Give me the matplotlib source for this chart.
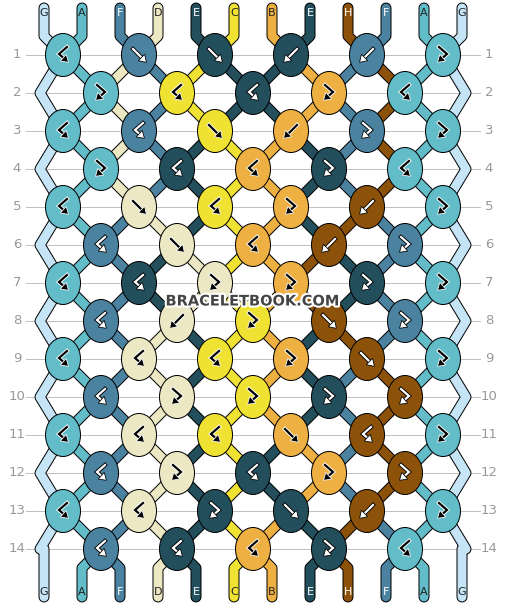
import matplotlib
matplotlib.use("Agg")
import matplotlib.pyplot as plt
from matplotlib.patches import Ellipse, Polygon
import matplotlib.patheffects as pe
import numpy as np

strings = ["G","A","F","D","E","C","B","E","H","F","A","G"]
colors = {"G":"#c5e5f7","A":"#62bdc9","F":"#4a82a0","D":"#ece8c4",
          "E":"#234e5c","C":"#f0e232","B":"#eeb042","H":"#8c520a"}
dark = {"F","E","H"}
knots = [
 ["bh","f","f","b","b","fh"],
 ["fh","bh","bh","fh","bh"],
 ["bh","bh","f","b","fh","fh"],
 ["fh","bh","bh","fh","bh"],
 ["bh","f","bh","fh","b","fh"],
 ["bh","f","bh","b","fh"],
 ["bh","bh","fh","fh","fh","fh"],
 ["bh","b","fh","f","fh"],
 ["bh","bh","bh","fh","f","fh"],
 ["bh","fh","fh","fh","fh"],
 ["bh","bh","bh","f","bh","fh"],
 ["bh","fh","bh","fh","fh"],
 ["bh","bh","fh","f","b","fh"],
 ["bh","bh","bh","fh","bh"],
]
row_labels = [str(i) for i in range(1, 15)]

W, H = 506, 604
fig = plt.figure(figsize=(W/100, H/100), dpi=100)
ax = fig.add_axes([0,0,1,1])
ax.set_xlim(0, W); ax.set_ylim(H, 0); ax.axis("off")
PT = 0.72
sx = lambda i: 44 + 38*i
ry = lambda r: 55 + 38*r

# grid lines and labels
for r, lab in enumerate(row_labels):
    y = ry(r)
    ax.plot([26, 480], [y, y], color="#c0c0c0", lw=1*PT, zorder=0)
    ax.text(17, y, lab, ha="center", va="center", color="#999999", fontsize=9.5)
    ax.text(489, y, lab, ha="center", va="center", color="#999999", fontsize=9.5)

def seg(pts, c, z=1):
    xs, ys = zip(*pts)
    ax.plot(xs, ys, color="black", lw=11*PT, solid_capstyle="round", solid_joinstyle="round", zorder=z)
    ax.plot(xs, ys, color=c, lw=9*PT, solid_capstyle="round", solid_joinstyle="round", zorder=z+0.1)

# simulate
threads = list(strings)
paths = {i: [(sx(i), 8), (sx(i), 36)] for i in range(12)}  # keyed by thread id
tid = list(range(12))
knot_draw = []
for r, row in enumerate(knots):
    y = ry(r)
    odd = (r % 2 == 0)
    start = 0 if odd else 1
    newtid = list(tid)
    if not odd:
        for p in (0, 11):
            paths[tid[p]].append((40 if p == 0 else 466, y))
    for k, t in enumerate(row):
        p = start + 2*k
        x = (sx(p)+sx(p+1))/2
        a, b = tid[p], tid[p+1]
        paths[a].append((x, y)); paths[b].append((x, y))
        col = strings[a] if t in ("f", "fh") else strings[b]
        knot_draw.append((x, y, col, t))
        if t in ("f", "b"):
            newtid[p], newtid[p+1] = b, a
    tid = newtid
# bottom
for p in range(12):
    if p in (0, 11):
        paths[tid[p]].append((sx(p), ry(13)))
    paths[tid[p]].append((sx(p), 568 if p not in (0, 11) else ry(13)))
    paths[tid[p]].append((sx(p), 597))
bottom = [strings[tid[p]] for p in range(12)]

for i in range(12):
    seg(paths[i], colors[strings[i]])

for i, s in enumerate(strings):
    ax.text(sx(i), 13, s, ha="center", va="center", fontsize=8,
            color="white" if s in dark else "#222222", zorder=3)
for i, s in enumerate(bottom):
    ax.text(sx(i), 592, s, ha="center", va="center", fontsize=8,
            color="white" if s in dark else "#222222", zorder=3)

def arrow(x, y, t, fg, bg):
    if t == "f": pts = [(-6,-6),(6,6)]
    elif t == "b": pts = [(6,-6),(-6,6)]
    elif t == "fh": pts = [(-4,-8),(-4,6),(5,6)][::1]; pts = [(-4,-8),(4,-1),(-4,6)]
    else: pts = [(4,-8),(-4,-1),(4,6)]
    pts = [(x+a, y+b) for a, b in pts]
    xs, ys = zip(*pts)
    (x1, y1), (x2, y2) = pts[-2], pts[-1]
    d = np.array([x2-x1, y2-y1], float); d /= np.linalg.norm(d)
    n = np.array([-d[1], d[0]])
    tip = np.array([x2, y2]) + d*2
    base = tip - d*7
    head = [tip, base + n*4.5, base - n*4.5]
    ln, = ax.plot(xs[:-1]+(base[0],), ys[:-1]+(base[1],), color=fg, lw=2.2*PT, zorder=6,
                  solid_joinstyle="miter")
    ln.set_path_effects([pe.Stroke(linewidth=4*PT, foreground=bg), pe.Normal()])
    ax.add_patch(Polygon(head, closed=True, facecolor=fg, edgecolor=bg, lw=0.8*PT, zorder=6.5))

for x, y, c, t in knot_draw:
    ax.add_patch(Ellipse((x, y), 35, 43, facecolor=colors[c], edgecolor="black", lw=1*PT, zorder=5))
    if c in dark:
        arrow(x, y, t, "white", "black")
    else:
        arrow(x, y, t, "black", "white")

ax.text(253, 301, "BRACELETBOOK.COM", ha="center", va="center", fontsize=10.5,
        fontweight="bold", color="#444444", zorder=10,
        path_effects=[pe.Stroke(linewidth=3, foreground="white"), pe.Normal()])

fig.savefig("out.png", dpi=100)
